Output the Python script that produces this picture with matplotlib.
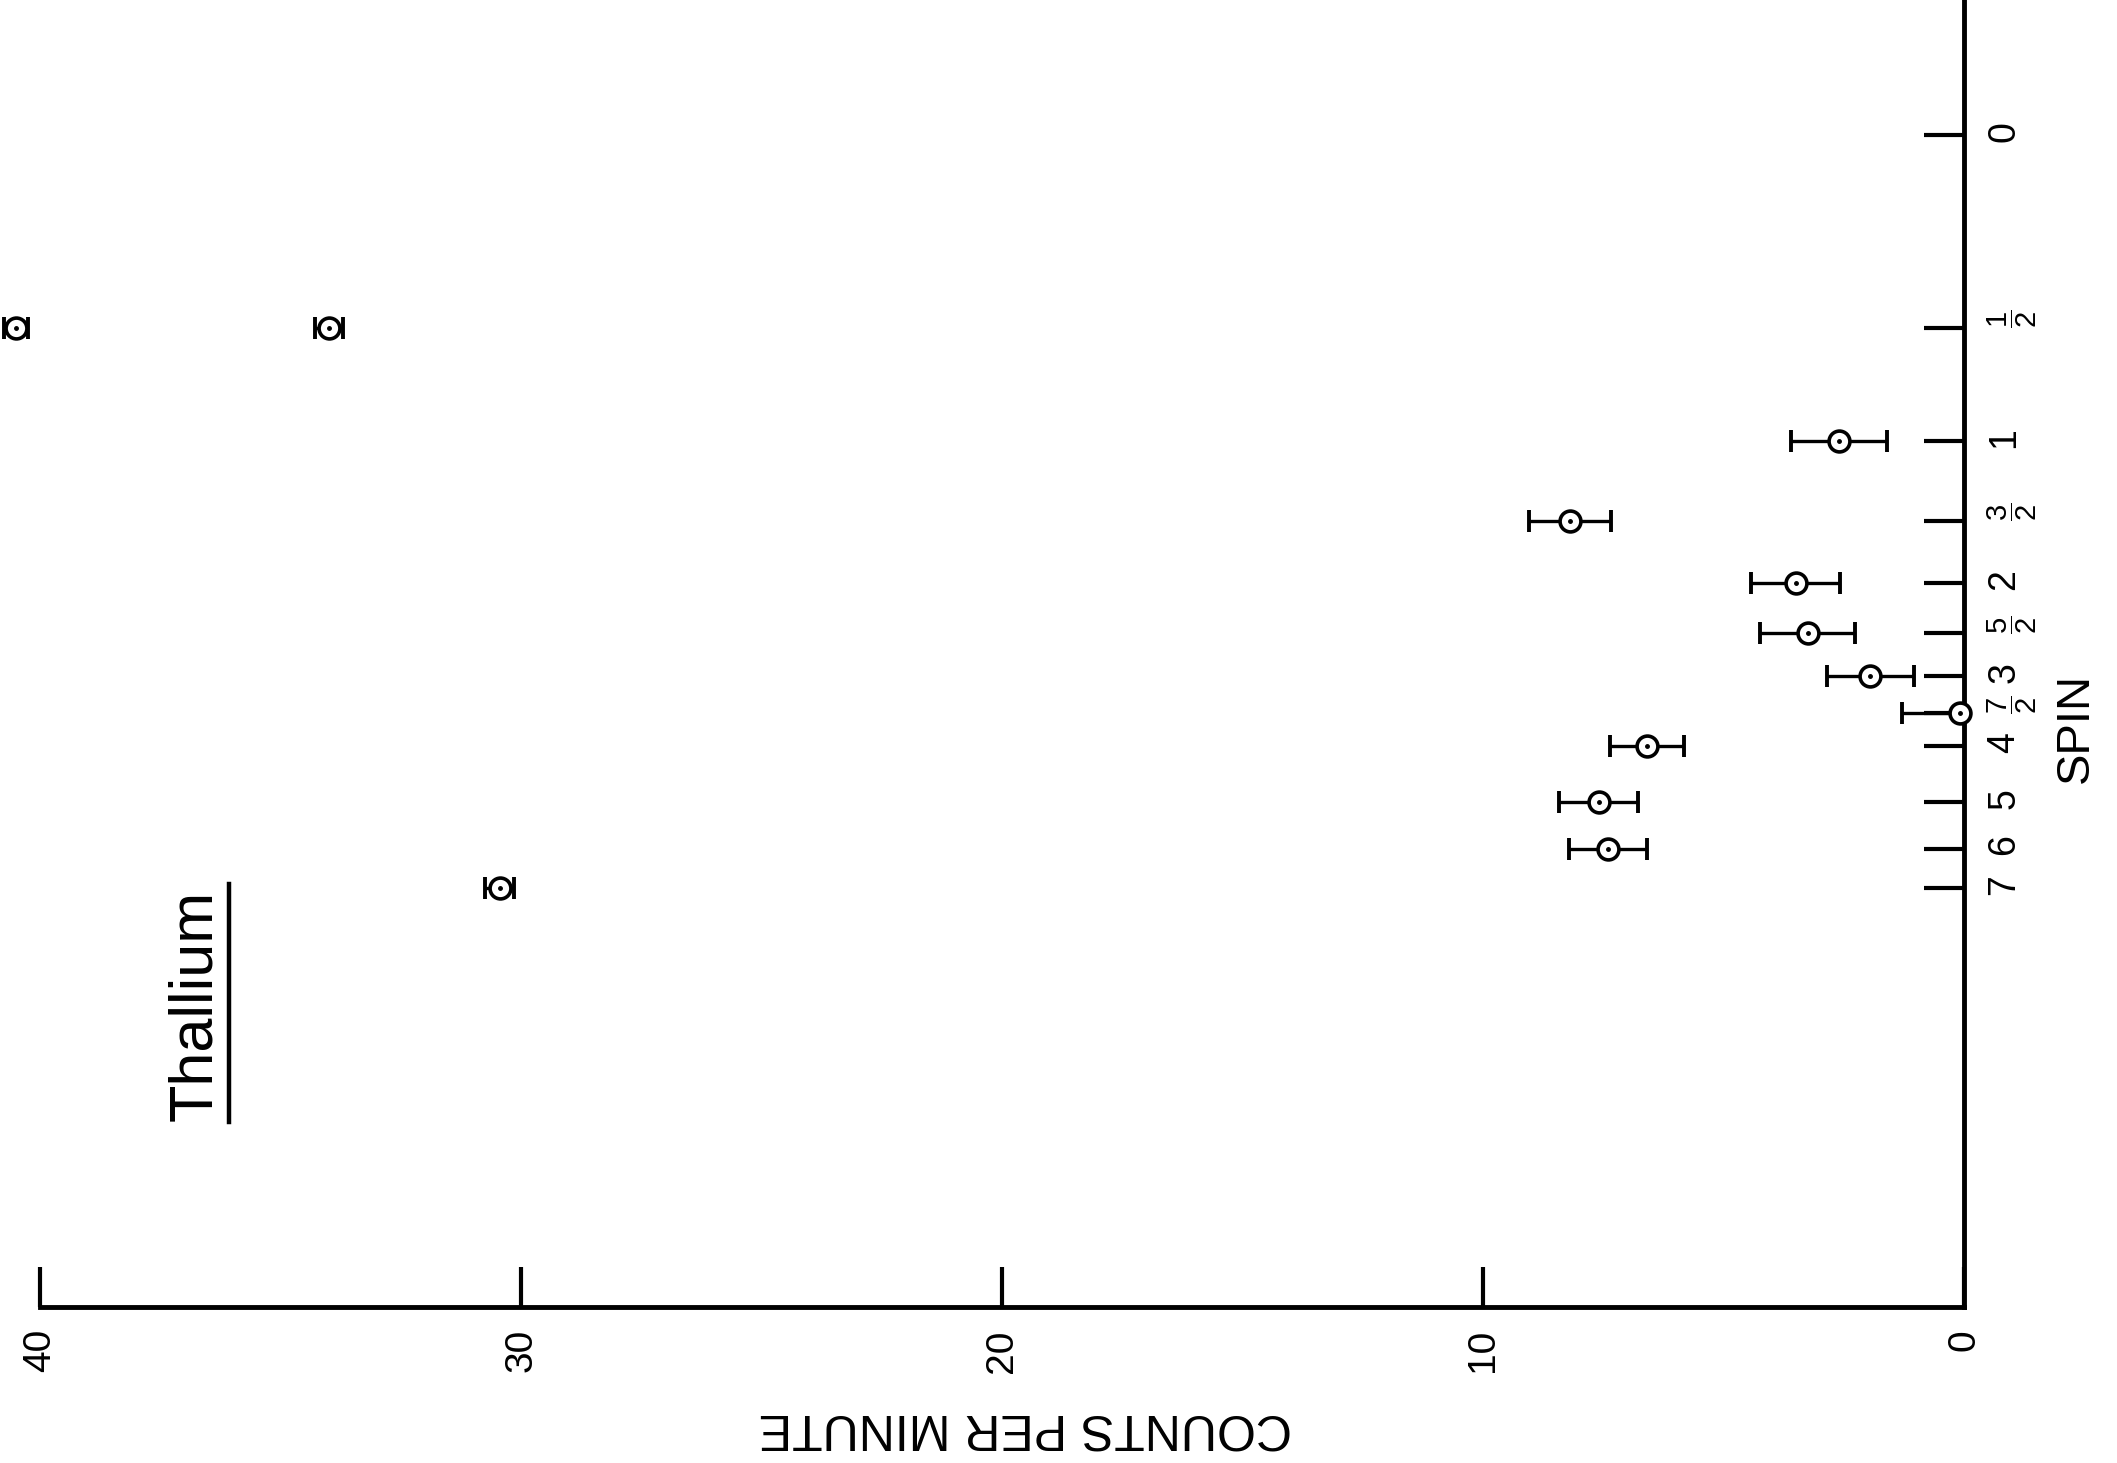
import numpy as np
import matplotlib.pyplot as plt
from matplotlib.lines import Line2D
from matplotlib.ticker import NullLocator, FixedLocator, FixedFormatter

plt.rcParams['font.family'] = ['Liberation Sans', 'DejaVu Sans']
plt.rcParams['mathtext.fontset'] = 'custom'
plt.rcParams['mathtext.rm'] = 'Liberation Sans'
plt.rcParams['mathtext.it'] = 'Liberation Sans'

# spin axis: drawn on a log scale of (2I+1)
tick_spins = [0, 0.5, 1, 1.5, 2, 2.5, 3, 3.5, 4, 5, 6, 7]
tick_labels = ['0', r'$\dfrac{1}{2}$', '1', r'$\dfrac{3}{2}$', '2', r'$\dfrac{5}{2}$',
               '3', r'$\dfrac{7}{2}$', '4', '5', '6', '7']
count_ticks = [0, 10, 20, 30, 40]

# measured points
spin = [0.5, 0.5, 1, 1.5, 2, 2.5, 3, 3.5, 4, 5, 6, 7]
counts = [40.5, 34.0, 2.6, 8.2, 3.5, 3.25, 1.95, 0.08, 6.6, 7.6, 7.4, 30.45]
err_lo = [0.25, 0.3, 1.0, 0.85, 0.93, 0.99, 0.9, 0.08, 0.77, 0.82, 0.81, 0.3]
err_hi = [0.25, 0.3, 1.0, 0.85, 0.93, 0.99, 0.9, 1.2, 0.77, 0.82, 0.81, 0.3]

mult = 2 * np.array(spin) + 1
tick_mult = 2 * np.array(tick_spins) + 1

fig = plt.figure(figsize=(21.17, 14.63), dpi=100)
W, H = 2117, 1463
x0, x1, ytop, ybot = 40.5, 1964, 0, 1307
ax = fig.add_axes([x0 / W, 1 - ybot / H, (x1 - x0) / W, (ybot - ytop) / H])

ax.errorbar(counts, mult, xerr=[err_lo, err_hi], fmt='none', ecolor='black',
            elinewidth=2.4, capsize=8, capthick=2.8, clip_on=False, zorder=3)
ax.plot(counts, mult, 'o', mfc='white', mec='black', ms=15, mew=2.6,
        clip_on=False, zorder=4)
ax.plot(counts, mult, '.', color='black', ms=5, clip_on=False, zorder=5)

ax.set_yscale('log')
ax.set_xlim(40, 0)
ax.set_ylim(67.6, 0.615)

ax.spines['top'].set_visible(False)
ax.spines['left'].set_visible(False)
ax.spines['right'].set_linewidth(3.5)
ax.spines['bottom'].set_linewidth(3.5)

ax.xaxis.set_major_locator(FixedLocator(count_ticks))
ax.xaxis.set_minor_locator(NullLocator())
ax.yaxis.set_major_locator(FixedLocator(tick_mult))
ax.yaxis.set_major_formatter(FixedFormatter(tick_labels))
ax.yaxis.set_minor_locator(NullLocator())

ax.tick_params(axis='x', direction='in', length=29, width=3, pad=16,
               labelsize=28, labelrotation=90)
ax.tick_params(axis='y', direction='in', length=29, width=3, pad=16,
               labelsize=27, labelrotation=90, left=False, labelleft=False,
               right=True, labelright=True)

# fractions a bit smaller than the whole numbers
for tk, lab in zip(ax.yaxis.get_major_ticks(), tick_labels):
    if 'frac' in lab:
        tk.label2.set_fontsize(21)

ax.set_xlabel('COUNTS PER MINUTE', fontsize=36, rotation=180, va='center')
ax.xaxis.set_label_coords(0.512, -0.092)
ax.yaxis.set_label_position('right')
ax.set_ylabel('SPIN', fontsize=34, rotation=90, va='center', ha='center')
ax.yaxis.set_label_coords(1.058, 0.443)

ax.text(0.0808, 0.231, 'Thallium', transform=ax.transAxes, rotation=90,
        fontsize=44, ha='center', va='center')
ax.add_line(Line2D([0.098, 0.098], [0.1416, 0.324], transform=ax.transAxes,
                   color='black', lw=3.2, clip_on=False))

fig.savefig('out.png', dpi=100, facecolor='white')
